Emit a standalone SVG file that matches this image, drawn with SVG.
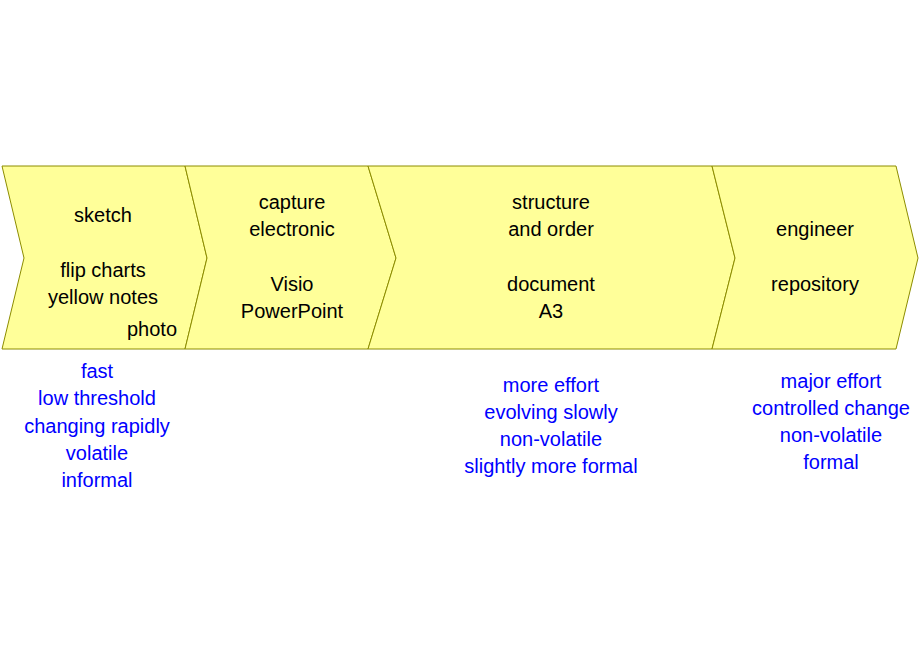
<svg xmlns="http://www.w3.org/2000/svg" width="920" height="660" viewBox="0 0 920 660">
<style>
.c{fill:#ffff99;stroke:#8c8c00;stroke-width:1}
text{font-family:"Liberation Sans",Arial,sans-serif;font-size:20px;text-anchor:middle}
.k{fill:#000}
.b{fill:#0000ff}
</style>
<rect width="920" height="660" fill="#fff"/>
<g id="sketch"><polygon class="c" points="2,166 185,166 207,258 185,349 2,349 24,258"/>
<text class="k"><tspan x="103" y="222">sketch</tspan><tspan x="103" y="277">flip charts</tspan><tspan x="103" y="304">yellow notes</tspan><tspan x="152" y="336">photo</tspan></text></g>
<g id="capture"><polygon class="c" points="185,166 368,166 396,258 368,349 185,349 207,258"/>
<text class="k"><tspan x="292" y="209">capture</tspan><tspan x="292" y="236">electronic</tspan><tspan x="292" y="291">Visio</tspan><tspan x="292" y="318">PowerPoint</tspan></text></g>
<g id="structure"><polygon class="c" points="368,166 712,166 735,258 712,349 368,349 396,258"/>
<text class="k"><tspan x="551" y="209">structure</tspan><tspan x="551" y="236">and order</tspan><tspan x="551" y="291">document</tspan><tspan x="551" y="318">A3</tspan></text></g>
<g id="engineer"><polygon class="c" points="712,166 896,166 918,258 896,349 712,349 735,258"/>
<text class="k"><tspan x="815" y="236">engineer</tspan><tspan x="815" y="291">repository</tspan></text></g>
<g id="connectors"/>
<text class="b"><tspan x="97" y="378">fast</tspan><tspan x="97" y="405">low threshold</tspan><tspan x="97" y="433">changing rapidly</tspan><tspan x="97" y="460">volatile</tspan><tspan x="97" y="487">informal</tspan></text>
<text class="b"><tspan x="551" y="392">more effort</tspan><tspan x="551" y="419">evolving slowly</tspan><tspan x="551" y="446">non-volatile</tspan><tspan x="551" y="473">slightly more formal</tspan></text>
<text class="b"><tspan x="831" y="388">major effort</tspan><tspan x="831" y="415">controlled change</tspan><tspan x="831" y="442">non-volatile</tspan><tspan x="831" y="469">formal</tspan></text>
</svg>
